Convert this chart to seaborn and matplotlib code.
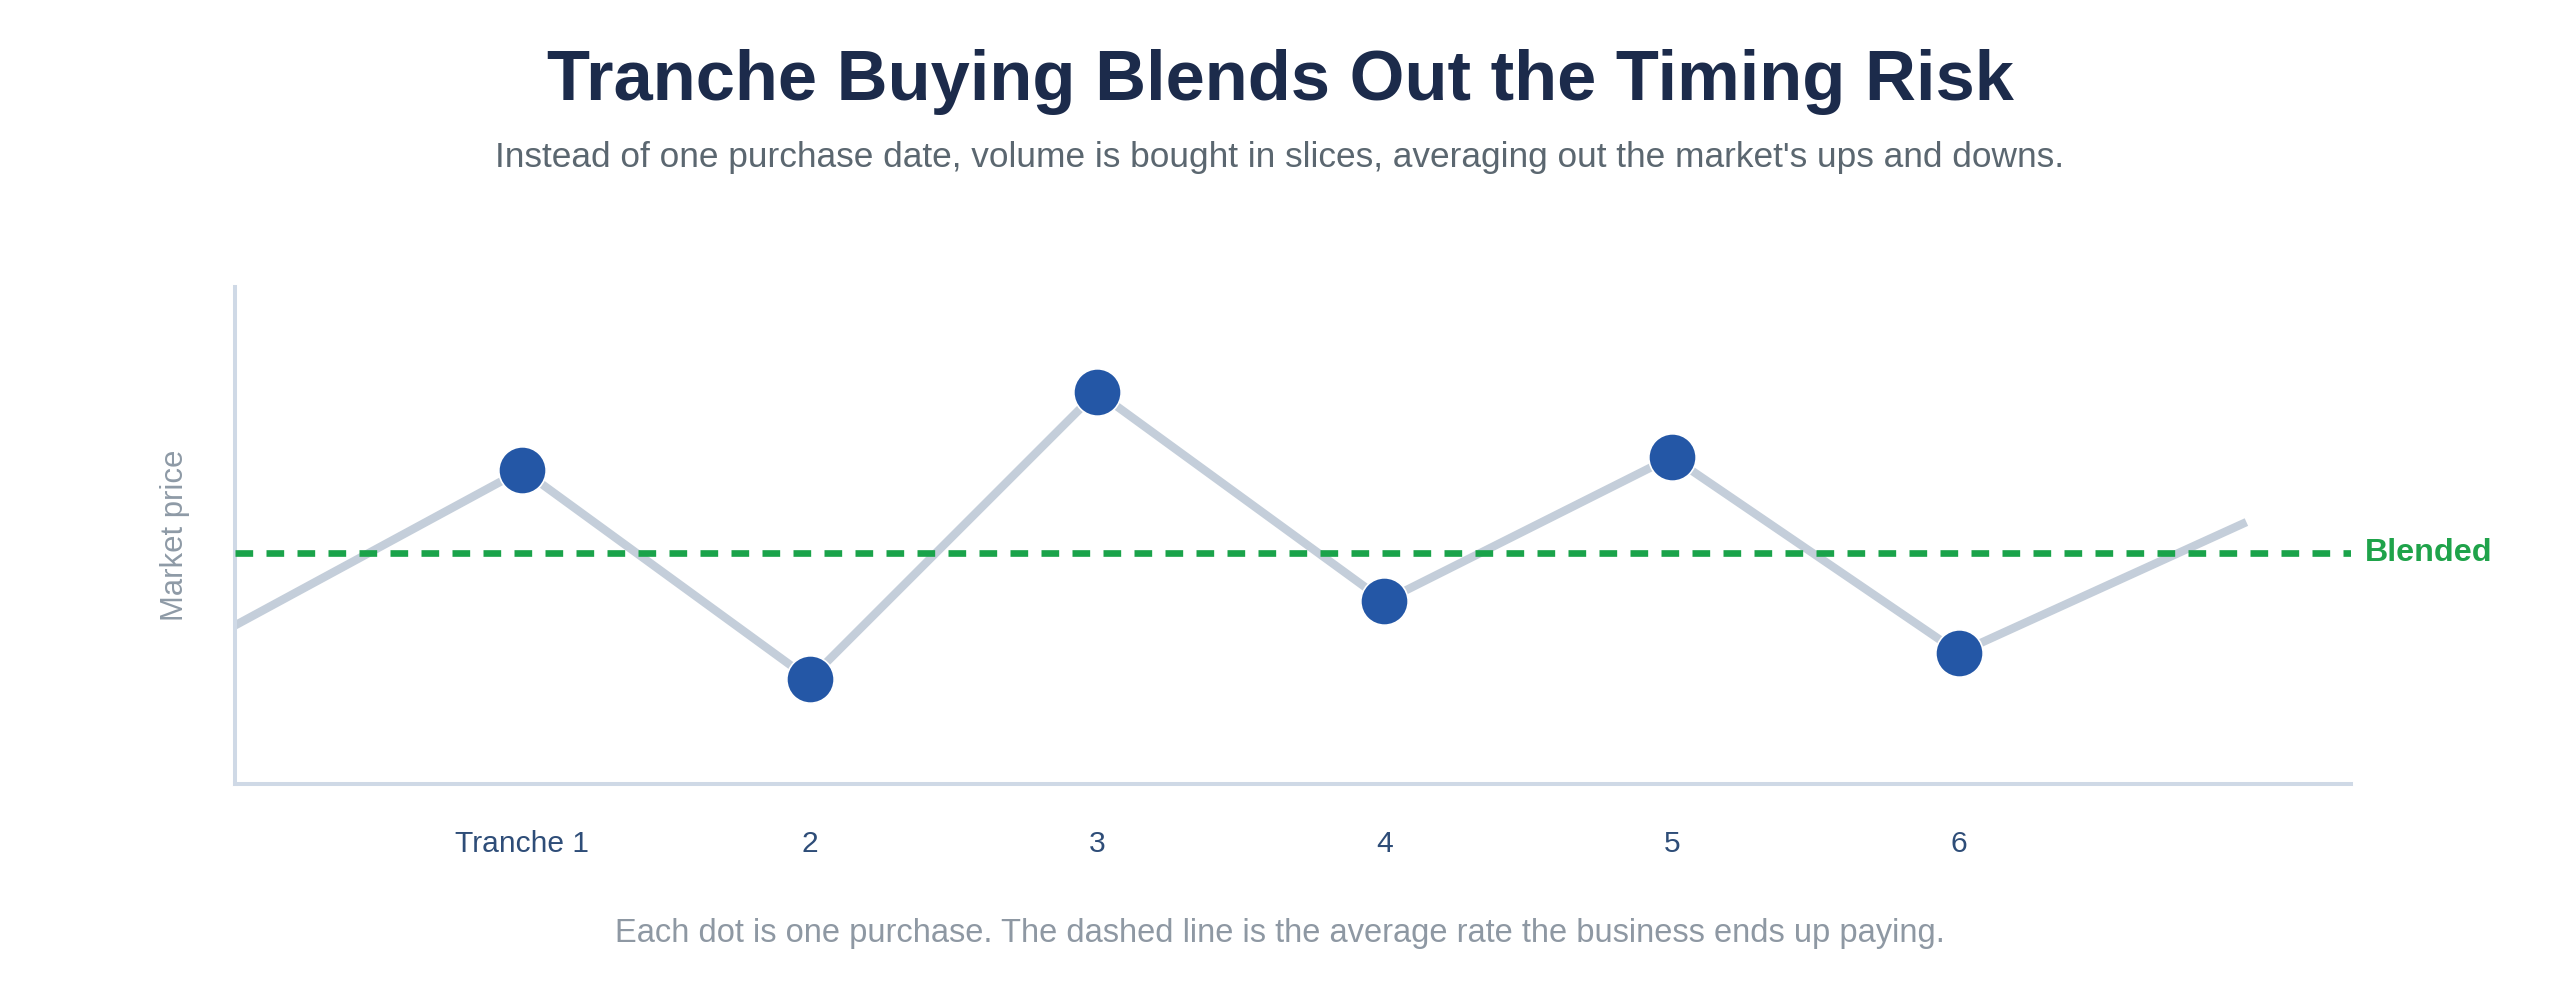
import numpy as np
import pandas as pd
import seaborn as sns
import matplotlib.pyplot as plt
import matplotlib.transforms as mtransforms

# ------------------------------------------------------------------
# data (price index 0-100 on the axis)
# ------------------------------------------------------------------
path_step = [0, 1, 2, 3, 4, 5, 6, 7]
path_price = [31.9, 63.2, 21.1, 78.9, 36.8, 65.8, 26.4, 52.7]

tranche_step = [1, 2, 3, 4, 5, 6]
tranche_price = [63.2, 21.1, 78.9, 36.8, 65.8, 26.4]
tranche_labels = ["Tranche 1", "2", "3", "4", "5", "6"]

blended_price = 46.4

path_df = pd.DataFrame({"step": path_step, "price": path_price})
buys_df = pd.DataFrame({"step": tranche_step, "price": tranche_price})

# ------------------------------------------------------------------
# style
# ------------------------------------------------------------------
sns.set_theme(style="white")
plt.rcParams["font.family"] = ["Liberation Sans", "DejaVu Sans"]

W, H = 2560, 1006
fig = plt.figure(figsize=(12.8, 5.03), dpi=200)
ax = fig.add_axes([235 / W, 1 - 784 / H, 2116 / W, 497 / H])

sns.lineplot(data=path_df, x="step", y="price", ax=ax, color="#c4ceda",
             linewidth=3.0, sort=False, zorder=2)
ax.lines[-1].set_solid_capstyle("butt")
ax.axhline(blended_price, color="#1aa34a", linewidth=2.4,
           linestyle=(0, (2.65, 2.0)), zorder=3)
sns.scatterplot(data=buys_df, x="step", y="price", ax=ax, s=290,
                color="#2457a6", edgecolor="white", linewidth=0.6, zorder=4)

ax.set_xlim(0, 7.364)
ax.set_ylim(0, 100)
ax.set_xticks(tranche_step)
ax.set_xticklabels(tranche_labels)
ax.set_yticks([])
ax.set_xlabel("")
ax.tick_params(axis="x", length=0, pad=16.5, labelsize=10.8, labelcolor="#2e4d78")

for side in ["top", "right"]:
    ax.spines[side].set_visible(False)
for side in ["left", "bottom"]:
    ax.spines[side].set_color("#cfd9e6")
    ax.spines[side].set_linewidth(1.45)

ax.set_ylabel("Market price", fontsize=11.2, color="#8e9aa6")
ax.yaxis.label.set(va="center", rotation_mode="default")
ax.yaxis.set_label_coords(-0.0285, 0.5)

trans = mtransforms.blended_transform_factory(ax.transAxes, ax.transData)
ax.text(1.0066, blended_price, "Blended", transform=trans, ha="left",
        va="center", fontsize=11.6, fontweight="bold", color="#1fa34a",
        clip_on=False)

# ------------------------------------------------------------------
# titles and footnote
# ------------------------------------------------------------------
fig.text(0.5, 1 - 100 / H, "Tranche Buying Blends Out the Timing Risk",
         ha="center", va="baseline", fontsize=25.4, fontweight="bold",
         color="#1c2b4b")
fig.text(0.5, 1 - 167 / H,
         "Instead of one purchase date, volume is bought in slices, "
         "averaging out the market's ups and downs.",
         ha="center", va="baseline", fontsize=12.7, color="#5b6770")
fig.text(0.5, 1 - 942 / H,
         "Each dot is one purchase. The dashed line is the average rate "
         "the business ends up paying.",
         ha="center", va="baseline", fontsize=11.75, color="#8e98a3")

fig.savefig("out.png", dpi=200, facecolor="white")
print("Saved out.png")
